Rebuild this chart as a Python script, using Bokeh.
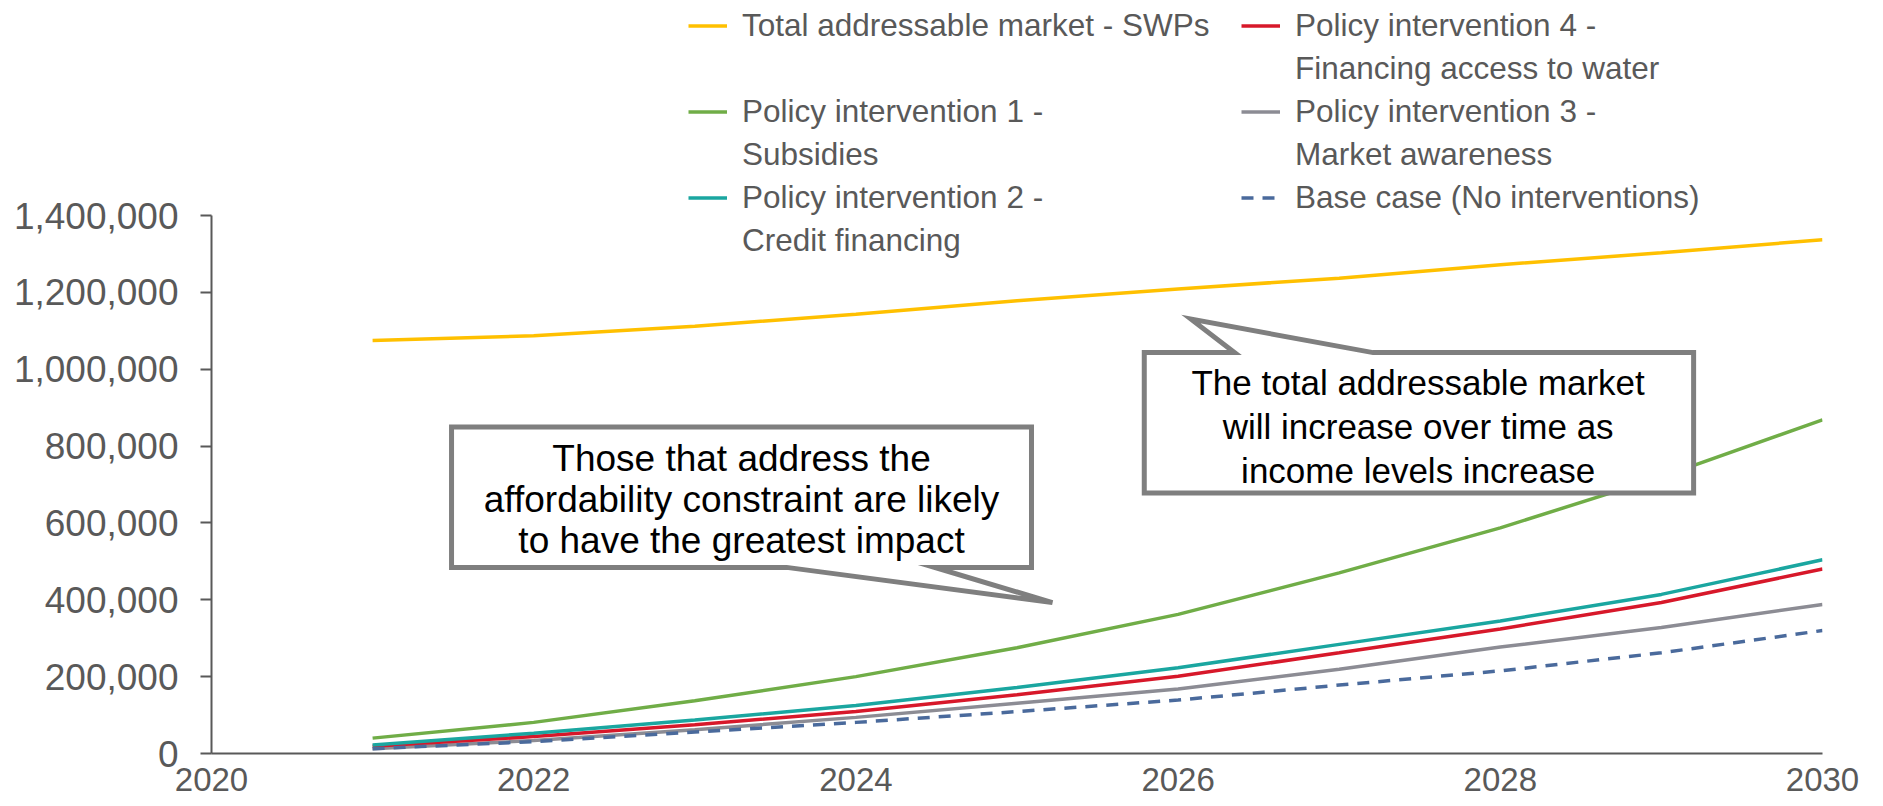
from bokeh.plotting import figure
from bokeh.models import Legend, LegendItem, Range1d, FixedTicker, NumeralTickFormatter
from bokeh.core.properties import value
from bokeh.embed import file_html
from bokeh.resources import INLINE

years = [2021, 2022, 2023, 2024, 2025, 2026, 2027, 2028, 2029, 2030]
tam = [1075000, 1087000, 1112000, 1143000, 1178000, 1209000, 1237000, 1272000, 1303000, 1337000]
pi1 = [40000, 81000, 137000, 200000, 275000, 362000, 470000, 587000, 720000, 868000]
pi2 = [22000, 53000, 87000, 125000, 172000, 223000, 284000, 345000, 414000, 504000]
pi4 = [19000, 44000, 75000, 109000, 153000, 201000, 262000, 324000, 393000, 480000]
pi3 = [12500, 34000, 62000, 94000, 131000, 168000, 219000, 277000, 328000, 388000]
base = [12500, 31000, 56000, 81000, 109000, 139000, 178000, 215000, 262000, 320000]

# legend labels: (first line, second line)
lab_tam = ("Total addressable market - SWPs", " ")
lab_pi1 = ("Policy intervention 1 -", "Subsidies")
lab_pi2 = ("Policy intervention 2 -", "Credit financing")
lab_pi4 = ("Policy intervention 4 -", "Financing access to water")
lab_pi3 = ("Policy intervention 3 -", "Market awareness")
lab_base = ("Base case (No interventions)",)

x_ticks = [2020, 2022, 2024, 2026, 2028, 2030]
y_ticks = [0, 200000, 400000, 600000, 800000, 1000000, 1200000, 1400000]
y_axis_max = 1400000

callout1_lines = ["Those that address the", "affordability constraint are likely", "to have the greatest impact"]
callout2_lines = ["The total addressable market", "will increase over time as", "income levels increase"]

# callout geometry (data coordinates)
c1 = dict(left=2021.49, right=2025.09, top=849700, bottom=484300, b1=2023.57, b2=2024.49, tipx=2025.22, tipy=392700)
c2 = dict(left=2025.79, right=2029.20, top=1043200, bottom=677800, b1=2026.35, b2=2027.21, tipx=2026.08, tipy=1130300)
c1_text_x = 2023.29
c1_text_y = [767000, 661000, 555000]
c2_text_x = 2027.49
c2_text_y = [966000, 850000, 737000]

AX = "#595959"
FONT = "Liberation Sans"

# frame extends to the top of the figure so the legend (drawn in the frame) is visible
p = figure(width=1883, height=806, output_backend="svg", toolbar_location=None,
           x_range=Range1d(2020, 2030), y_range=Range1d(0, 1959480),
           min_border_left=211, min_border_right=61, min_border_top=0, min_border_bottom=53)
p.outline_line_color = None
p.xgrid.visible = False
p.ygrid.visible = False
p.background_fill_color = "white"
p.border_fill_color = "white"

LW = 3.5
r_tam = p.line(years, tam, line_color="#FFC000", line_width=LW)
r_pi1 = p.line(years, pi1, line_color="#70AD47", line_width=LW)
r_pi3 = p.line(years, pi3, line_color="#8C8C94", line_width=LW)
r_pi4 = p.line(years, pi4, line_color="#D7182A", line_width=LW)
r_pi2 = p.line(years, pi2, line_color="#1AA6A0", line_width=LW)
r_base = p.line(years, base, line_color="#4A6A9C", line_width=LW, line_dash="12 9")

def callout(c, pointer_bottom):
    if pointer_bottom:
        xs = [c["left"], c["right"], c["right"], c["b2"], c["tipx"], c["b1"], c["left"]]
        ys = [c["top"], c["top"], c["bottom"], c["bottom"], c["tipy"], c["bottom"], c["bottom"]]
    else:
        xs = [c["left"], c["b1"], c["tipx"], c["b2"], c["right"], c["right"], c["left"]]
        ys = [c["top"], c["top"], c["tipy"], c["top"], c["top"], c["bottom"], c["bottom"]]
    p.patch(xs, ys, fill_color="white", line_color="#7F7F7F", line_width=5, line_join="miter")

callout(c1, True)
callout(c2, False)

p.text(x=[c1_text_x] * 3, y=c1_text_y, text=callout1_lines, text_align="center", text_baseline="middle",
       text_font=value(FONT), text_font_size="37px", text_color="black")
p.text(x=[c2_text_x] * 3, y=c2_text_y, text=callout2_lines, text_align="center", text_baseline="middle",
       text_font=value(FONT), text_font_size="35px", text_color="black")

# axes
p.xaxis.ticker = FixedTicker(ticks=x_ticks)
p.yaxis.ticker = FixedTicker(ticks=y_ticks)
p.yaxis.bounds = (0, y_axis_max)
p.yaxis.formatter = NumeralTickFormatter(format="0,0")
for ax in [p.xaxis[0], p.yaxis[0]]:
    ax.axis_line_color = AX
    ax.axis_line_width = 2
    ax.major_label_text_color = AX
    ax.major_label_text_font = FONT
    ax.minor_tick_line_color = None
p.yaxis.major_label_text_font_size = "37px"
p.xaxis.major_label_text_font_size = "33px"
p.xaxis.major_tick_line_color = None
p.xaxis.major_label_standoff = 8
p.yaxis.major_tick_line_color = AX
p.yaxis.major_tick_line_width = 2
p.yaxis.major_tick_out = 11
p.yaxis.major_tick_in = 0
p.yaxis.major_label_standoff = 22

def make_legend(entries, x, y):
    items = []
    for lab, r in entries:
        items.append(LegendItem(label=lab[0], renderers=[r]))
        for extra in lab[1:]:
            items.append(LegendItem(label=extra, renderers=[]))
    lg = Legend(items=items, location=(x, y), orientation="vertical",
                label_text_font=FONT, label_text_font_size="31.5px",
                label_text_color=AX, glyph_width=39, glyph_height=43, label_height=43,
                label_standoff=15, spacing=0, padding=0, margin=0,
                border_line_color=None, background_fill_alpha=0)
    p.add_layout(lg, "center")

make_legend([(lab_tam, r_tam), (lab_pi1, r_pi1), (lab_pi2, r_pi2)], 477, 491)
make_legend([(lab_pi4, r_pi4), (lab_pi3, r_pi3), (lab_base, r_base)], 1030, 534)

open("out.html", "w").write(file_html(p, INLINE))
